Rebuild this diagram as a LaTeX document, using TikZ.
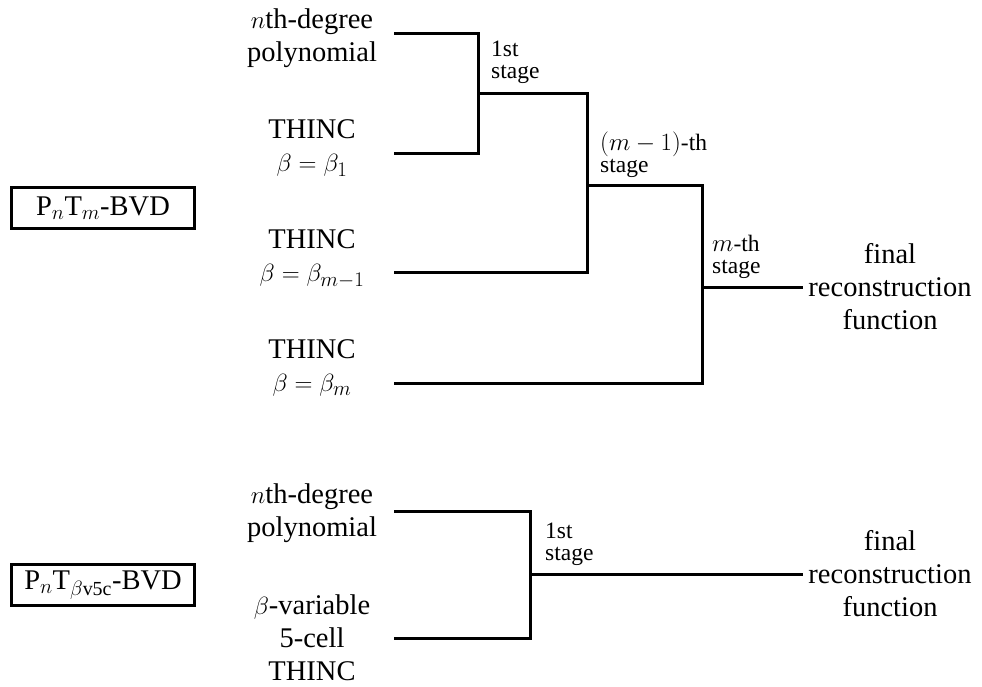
\documentclass[tikz,border=0pt]{standalone}
\usepackage{fontspec}
\setmainfont{Liberation Serif}
\begin{document}
\begin{tikzpicture}[x=1pt,y=-1pt,
  item/.style={align=center,font=\fontsize{28.5}{33}\selectfont,inner sep=0pt},
  stagelbl/.style={align=left,anchor=west,font=\fontsize{23.5}{22}\selectfont,inner sep=0pt},
  method/.style={draw,line width=2.2pt,minimum width=183pt,minimum height=41pt,inner sep=0pt,
    font=\fontsize{28.5}{33}\selectfont},
  wire/.style={line width=3pt}]
\useasboundingbox (0,0) rectangle (982,686);

% method labels
\node[method] (bvdA) at (103,208) {P$_n$T$_m$-BVD};
\node[method] (bvdB) at (103,585) {P$_n$T\textsubscript{$\beta$v5c}-BVD};

% ---------- multi-stage tree ----------
\node[item] (polyA) at (312,38) {$n$th-degree\\polynomial};
\node[item] (thA)   at (312,148) {THINC\\$\beta=\beta_1$};
\node[item] (thB)   at (312,259) {THINC\\$\beta=\beta_{m-1}$};
\node[item] (thC)   at (312,368) {THINC\\$\beta=\beta_m$};
\node[item] (finA)  at (890,287) {final\\reconstruction\\function};

\coordinate (inA) at (394,33);
\coordinate (inB) at (394,153);
\coordinate (inC) at (394,272);
\coordinate (inD) at (394,383);
\coordinate (jA)  at (478,93);
\coordinate (jB)  at (587,185);
\coordinate (jC)  at (702,287);
\coordinate (outA) at (803,287);

\draw[wire] (inA) -| (jA) |- (inB);
\draw[wire] (jA) -| (jB) |- (inC);
\draw[wire] (jB) -| (jC) |- (inD);
\draw[wire] (jC) -- (outA);

\node[stagelbl] (sA) at (491,62) {1st\\stage};
\node[stagelbl] (sB) at (600,155) {$(m-1)$-th\\stage};
\node[stagelbl] (sC) at (712,257) {$m$-th\\stage};

% ---------- single-stage tree ----------
\node[item] (polyB) at (312,513) {$n$th-degree\\polynomial};
\node[item] (bvB)   at (312,638) {$\beta$-variable\\5-cell\\THINC};
\node[item] (finB)  at (890,574) {final\\reconstruction\\function};

\coordinate (inE) at (394,511);
\coordinate (inF) at (394,638);
\coordinate (jD)  at (530,574);
\coordinate (outB) at (803,574);

\draw[wire] (inE) -| (jD) |- (inF);
\draw[wire] (jD) -- (outB);

\node[stagelbl] (sD) at (545,544) {1st\\stage};
\end{tikzpicture}
\end{document}
